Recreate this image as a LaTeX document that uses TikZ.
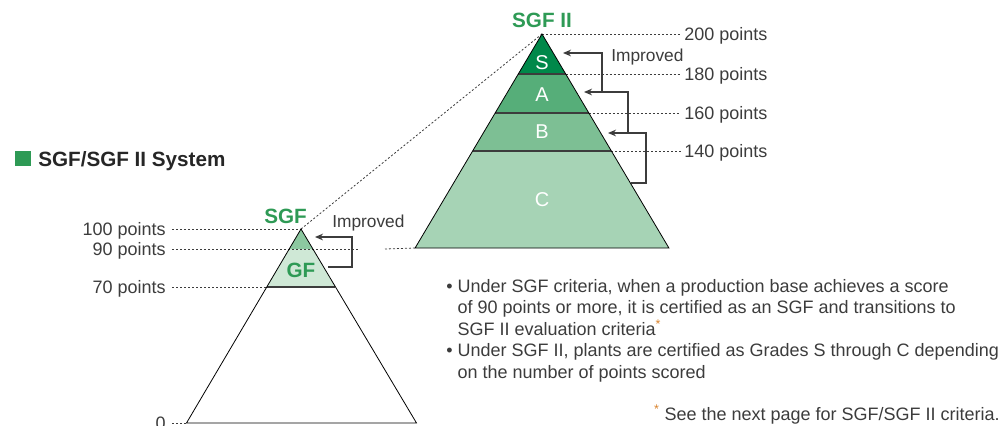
\documentclass[tikz,border=0pt]{standalone}
\usepackage{fontspec}
\setmainfont{Liberation Sans}
\usepackage{tikz}
\usetikzlibrary{calc,arrows.meta,positioning}
\usepackage{xcolor}
\definecolor{ink}{HTML}{3C3C3C}
\definecolor{sgfgreen}{HTML}{2E9A55}
\definecolor{gradeS}{HTML}{00884A}
\definecolor{gradeA}{HTML}{56AE79}
\definecolor{gradeB}{HTML}{7DBF94}
\definecolor{gradeC}{HTML}{A6D3B5}
\definecolor{gftop}{HTML}{8CC8A0}
\definecolor{gfband}{HTML}{CFE8D6}
\definecolor{note}{HTML}{D9822B}
\tikzset{
    guide/.style={
        dash pattern=on 1.5pt off 1.5pt,
        line width=0.6pt,
        color=ink
    },
    outline/.style={
        line width=0.6pt,
        color=black
    },
    divider/.style={
        line width=0.9pt,
        color=ink
    },
    improved/.style={
        -{Stealth[length=6pt,width=5pt]},
        line width=1pt,
        color=ink
    },
    pointlabel/.style={
        font=\fontsize{13.5}{16}\selectfont,
        text=ink,
        text depth=0pt,
        inner sep=0pt
    },
    gradelabel/.style={
        font=\fontsize{15}{18}\selectfont,
        text=white,
        inner sep=0pt
    },
    systemlabel/.style={
        font=\bfseries\fontsize{15.5}{18}\selectfont,
        text=sgfgreen,
        text depth=0pt,
        inner sep=0pt
    },
    notetext/.style={
        font=\fontsize{13.5}{16.1}\selectfont,
        text=ink,
        align=left,
        inner sep=0pt
    }
}

\begin{document}
\begin{tikzpicture}[x=0.75pt,y=-0.75pt]

    \useasboundingbox (0,0) rectangle (1002,425);

    % SGF II corners
    \coordinate (top2) at (542,34);
    \coordinate (s2l) at (518.3,74);
    \coordinate (s2r) at (565.7,74);
    \coordinate (a2l) at (495.2,113);
    \coordinate (a2r) at (588.8,113);
    \coordinate (b2l) at (472.6,151);
    \coordinate (b2r) at (611.4,151);
    \coordinate (c2l) at (415.1,248);
    \coordinate (c2r) at (668.9,248);

    % SGF corners
    \coordinate (top1) at (301,229);
    \coordinate (l90) at (289.1,249);
    \coordinate (r90) at (312.9,249);
    \coordinate (l70) at (266.6,287);
    \coordinate (r70) at (335.4,287);
    \coordinate (l0) at (186.5,423);
    \coordinate (r0) at (416.5,423);

    % Title
    \fill[sgfgreen]
        (15,151) rectangle (31,166);

    \node[
        pointlabel,
        font=\bfseries\fontsize{15.5}{18}\selectfont,
        text=black!85,
        anchor=west
    ] (title)
        at (38,159)
        {SGF/SGF II System};

    % SGF II bands
    \fill[gradeS] (top2) -- (s2l) -- (s2r) -- cycle;
    \fill[gradeA] (s2l) -- (a2l) -- (a2r) -- (s2r) -- cycle;
    \fill[gradeB] (a2l) -- (b2l) -- (b2r) -- (a2r) -- cycle;
    \fill[gradeC] (b2l) -- (c2l) -- (c2r) -- (b2r) -- cycle;

    % SGF bands
    \fill[gftop] (top1) -- (l90) -- (r90) -- cycle;
    \fill[gfband] (l90) -- (l70) -- (r70) -- (r90) -- cycle;

    % Point labels, right
    \node[pointlabel, anchor=west] (p200) at (684,34) {200 points};
    \node[pointlabel, anchor=west] (p180) at (684,74) {180 points};
    \node[pointlabel, anchor=west] (p160) at (684,113) {160 points};
    \node[pointlabel, anchor=west] (p140) at (684,151) {140 points};

    % Point labels, left
    \node[pointlabel, anchor=east] (p100) at (166,229) {100 points};
    \node[pointlabel, anchor=east] (p90) at (166,249) {90 points};
    \node[pointlabel, anchor=east] (p70) at (166,287) {70 points};
    \node[pointlabel, anchor=east] (p0) at (166,423) {0};

    % Guides
    \draw[guide] (top2) -- ([xshift=-2.5pt]p200.west);
    \draw[guide] (s2r) -- ([xshift=-2.5pt]p180.west);
    \draw[guide] (a2r) -- ([xshift=-2.5pt]p160.west);
    \draw[guide] (b2r) -- ([xshift=-2.5pt]p140.west);

    \coordinate (g90a) at (360,249);
    \coordinate (g90b) at (385,249);

    \draw[guide] ([xshift=4.5pt]p100.east) -- (top1);
    \draw[guide] ([xshift=4.5pt]p90.east) -- (g90a);
    \draw[guide] (g90b) -- (c2l);
    \draw[guide] ([xshift=4.5pt]p70.east) -- (l70);
    \draw[guide] ([xshift=4.5pt]p0.east) -- (l0);

    % Zoom line
    \draw[guide] (top1) -- (top2);

    % Dividers
    \draw[divider] (s2l) -- (s2r);
    \draw[divider] (a2l) -- (a2r);
    \draw[divider] (b2l) -- (b2r);
    \draw[divider] (l70) -- (r70);

    % Outlines
    \draw[outline] (top2) -- (c2l) -- (c2r) -- cycle;
    \draw[outline] (top1) -- (l0) -- (r0) -- cycle;

    % Grades
    \node[gradelabel] (gS) at (542,63) {S};
    \node[gradelabel] (gA) at (542,95) {A};
    \node[gradelabel] (gB) at (542,132) {B};
    \node[gradelabel] (gC) at (542,200) {C};

    \node[
        gradelabel,
        font=\bfseries\fontsize{15.5}{18}\selectfont,
        text=sgfgreen
    ] (gGF)
        at (301,270)
        {GF};

    % System names
    \node[systemlabel, above=4.7pt of top2] (sgf2) {SGF II};

    \node[systemlabel, anchor=base] (sgf1)
        at (285.5,223.3)
        {SGF};

    % Improved, SGF II
    \coordinate (cEdge) at (630.5,183);
    \coordinate (cTurn) at (646,183);
    \coordinate (bTip) at (608,133);
    \coordinate (bJoin) at (628,133);
    \coordinate (aTip) at (584,92);
    \coordinate (aJoin) at (602,92);
    \coordinate (sTip) at (563,53);

    \draw[improved] (cEdge) -- (cTurn) |- (bTip);
    \draw[improved] (bJoin) |- (aTip);
    \draw[improved] (aJoin) |- (sTip);

    \node[pointlabel, font=\fontsize{13}{16}\selectfont, anchor=base west]
        (imp2) at (611,61.5)
        {Improved};

    % Improved, SGF
    \coordinate (gfEdge) at (328,267);
    \coordinate (gfTurn) at (352,267);
    \coordinate (gfTip) at (315,237);

    \draw[improved] (gfEdge) -- (gfTurn) |- (gfTip);

    \node[pointlabel, font=\fontsize{13}{16}\selectfont, anchor=base west]
        (imp1) at (332,227.3)
        {Improved};

    % Notes
    \node[notetext, anchor=north west] (notes)
        at (446,279)
        {\textbullet\ Under SGF criteria, when a production base achieves a score\\
         \phantom{\textbullet\ }of 90 points or more, it is certified as an SGF and transitions to\\
         \phantom{\textbullet\ }SGF II evaluation criteria\textsuperscript{\color{note}*}\\
         \textbullet\ Under SGF II, plants are certified as Grades S through C depending\\
         \phantom{\textbullet\ }on the number of points scored};

    \node[notetext, anchor=base east] (footnote)
        at (1000,420)
        {\textsuperscript{\color{note}*} See the next page for SGF/SGF II criteria.};

\end{tikzpicture}
\end{document}
